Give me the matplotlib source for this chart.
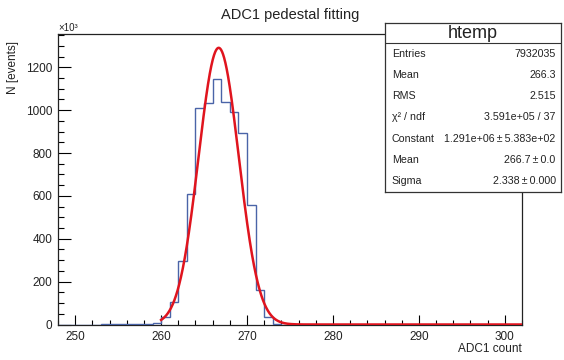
import numpy as np
import matplotlib
matplotlib.use('Agg')
import matplotlib.pyplot as plt
from matplotlib.ticker import MultipleLocator, FuncFormatter
from matplotlib.lines import Line2D

# ---------------- data ----------------
bin_low = list(range(248, 302))          # 1-wide bins, 248 .. 302
counts_k = [0, 0, 0, 0, 0, 1, 1, 1, 2, 2, 3, 5,       # 248-259
            36, 106, 298, 608, 1009, 1035, 1146, 1040,  # 260-267
            993, 895, 558, 161, 34, 3,                 # 268-273
            0, 0, 0, 0, 0, 0, 0, 0, 0, 0, 0, 0, 0, 0,  # 274-287
            0, 0, 0, 0, 0, 0, 0, 0, 0, 0, 0, 0, 0, 0]  # 288-301
fit_const_k = 1291.0
fit_mean = 266.7
fit_sigma = 2.338
fit_range = [260, 302]

title = "ADC1 pedestal fitting"
xlabel = "ADC1 count"
ylabel = "N [events]"
stats_title = "htemp"
stats_labels = ["Entries", "Mean", "RMS", "\u03c7\u00b2 / ndf", "Constant", "Mean", "Sigma"]
stats_values = ["7932035", "266.3", "2.515", "3.591e+05 / 37",
                "1.291e+06\u2009\u00b1\u20095.383e+02", "266.7\u2009\u00b1\u20090.0",
                "2.338\u2009\u00b1\u20090.000"]

# ---------------- style ----------------
plt.rcParams['font.family'] = ['Liberation Sans', 'DejaVu Sans']
W, H = 564, 360
fig = plt.figure(figsize=(W / 100, H / 100), dpi=100)
fig.patch.set_facecolor('white')

L, R, T, B = 58, 522, 34, 324.5
ax = fig.add_axes([L / W, 1 - B / H, (R - L) / W, (B - T) / H])

edges = np.array(bin_low + [bin_low[-1] + 1])
counts = np.array(counts_k, dtype=float)
ax.stairs(counts, edges, color='#4a64a8', lw=1.0, zorder=3)

xs = np.linspace(fit_range[0], fit_range[1], 2000)
ys = fit_const_k * np.exp(-0.5 * ((xs - fit_mean) / fit_sigma) ** 2)
ax.plot(xs, ys, color='#e0141e', lw=1.8, zorder=4)

ax.set_xlim(edges[0], edges[-1])
ax.set_ylim(0, fit_const_k * 1.05)

ax.xaxis.set_major_locator(MultipleLocator(10))
ax.xaxis.set_minor_locator(MultipleLocator(2))
ax.yaxis.set_major_locator(MultipleLocator(200))
ax.yaxis.set_minor_locator(MultipleLocator(50))
ax.yaxis.set_major_formatter(FuncFormatter(lambda v, p: f"{int(round(v))}"))
ax.xaxis.set_major_formatter(FuncFormatter(lambda v, p: f"{int(round(v))}"))

ax.tick_params(axis='both', which='both', direction='in', top=False, right=False,
               labelsize=8.5, color='black', width=0.8, labelcolor='#222222')
ax.tick_params(axis='x', which='major', length=7, pad=5)
ax.tick_params(axis='x', which='minor', length=3.5)
ax.tick_params(axis='y', which='major', length=9, pad=4)
ax.tick_params(axis='y', which='minor', length=4.5)
for s in ax.spines.values():
    s.set_linewidth(0.9)
    s.set_color('#222222')

fig.text((L + R) / 2 / W, 1 - 15 / H, title, ha='center', va='center', fontsize=10.5,
         color='#222222')
fig.text(R / W, 1 - 349 / H, xlabel, ha='right', va='center', fontsize=8.5, color='#222222')
fig.text(13 / W, 1 - 41 / H, ylabel, ha='center', va='top', rotation=90, fontsize=8.5,
         color='#222222')
fig.text(L / W, 1 - 28 / H, "\u00d710\u00b3", ha='left', va='center', fontsize=7,
         color='#222222')

# ---------------- stats box ----------------
bx0, bx1, by0, by1 = 385, 561, 23.3, 191.7
sax = fig.add_axes([bx0 / W, 1 - by1 / H, (bx1 - bx0) / W, (by1 - by0) / H])
sax.set_facecolor('white')
sax.set_xticks([]); sax.set_yticks([])
sax.set_xlim(0, 1); sax.set_ylim(0, 1)
for s in sax.spines.values():
    s.set_linewidth(0.9)
    s.set_color('#333333')
sep_px = 43.3
sep = (by1 - sep_px) / (by1 - by0)
sax.add_line(Line2D([0, 1], [sep, sep], color='#333333', lw=0.8))
sax.text(0.5, (by1 - 33.3) / (by1 - by0), stats_title, ha='center', va='center',
         fontsize=13, color='#222222')
n = len(stats_labels)
row_h = sep / n
for i, (lab, val) in enumerate(zip(stats_labels, stats_values)):
    yc = sep - row_h * (i + 0.5)
    sax.text(0.038, yc, lab, ha='left', va='center', fontsize=7.7, color='#222222')
    sax.text(0.97, yc, val, ha='right', va='center', fontsize=7.7, color='#222222')

fig.savefig('out.png', dpi=100)
